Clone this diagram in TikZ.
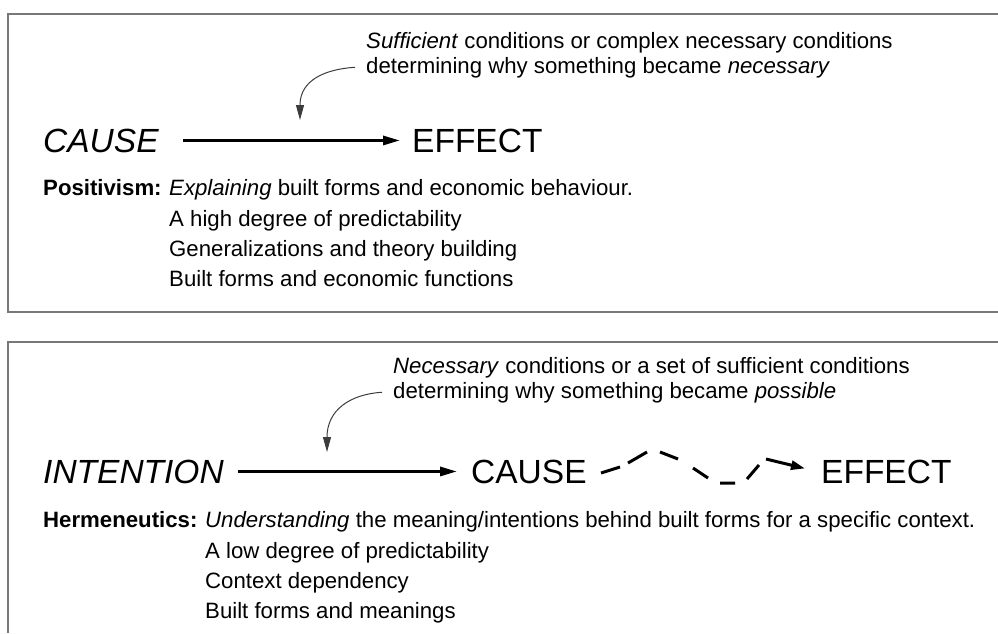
\documentclass[tikz,border=0pt]{standalone}
\usepackage{fontspec}
\setmainfont{Liberation Sans}
\usetikzlibrary{arrows.meta}
\definecolor{boxgray}{RGB}{120,120,120}
\definecolor{curvegray}{RGB}{60,60,60}
\begin{document}
\begin{tikzpicture}[x=1pt,y=-1pt,
  small/.style={font=\fontsize{22.2}{26}\selectfont, inner sep=0pt, anchor=base west},
  big/.style={font=\fontsize{33.5}{40}\selectfont, inner sep=0pt, anchor=base west},
  bigit/.style={font=\fontsize{33.5}{40}\selectfont\itshape, inner sep=0pt, anchor=base west},
  boxline/.style={draw=boxgray, line width=1.2pt},
  mainarrow/.style={line width=3pt, -{Triangle[length=17pt,width=9pt]}},
  curvearrow/.style={draw=curvegray, line width=1pt, -{Triangle[length=15pt,width=8pt]}},
  zig/.style={line width=3pt, -{Triangle[length=14pt,width=9pt]}}
]
\useasboundingbox (0,0) rectangle (998,633);
% boxes
\draw[boxline] (998,14) -- (8,14) -- (8,312) -- (998,312);
\draw[boxline] (998,342) -- (8,342) -- (8,633);

% ---------- top panel ----------
\node[small] (suf1) at (366,48) {\textit{Sufficient} conditions or complex necessary conditions};
\node[small] (suf2) at (366,73) {determining why something became \textit{necessary}};
\node[bigit] (cause1) at (43,152) {CAUSE};
\node[big] (effect1) at (412,152) {EFFECT};
\coordinate (tip1) at (300,120);
\draw[mainarrow, shorten <=24pt, shorten >=12pt] (cause1.east) -- (effect1.west);
\draw[curvearrow] ([xshift=-11pt]suf2.west) .. controls +(-30,2) and +(0,-40) .. (tip1);

\node[small] (pos) at (43,195) {\bfseries Positivism:};
\node[small] (pos1) at (169,195) {\textit{Explaining} built forms and economic behaviour.};
\node[small] (pos2) at (169,226) {A high degree of predictability};
\node[small] (pos3) at (169,256) {Generalizations and theory building};
\node[small] (pos4) at (169,286) {Built forms and economic functions};

% ---------- bottom panel ----------
\node[small] (nec1) at (393,373) {\textit{Necessary} conditions or a set of sufficient conditions};
\node[small] (nec2) at (393,398) {determining why something became \textit{possible}};
\node[bigit] (intent) at (43,483) {INTENTION};
\node[big] (cause2) at (471,483) {CAUSE};
\node[big] (effect2) at (821,483) {EFFECT};
\coordinate (tip2) at (327,452);
\draw[mainarrow, shorten <=14pt, shorten >=14pt] (intent.east) -- (cause2.west);
\draw[curvearrow] ([xshift=-11pt]nec2.west) .. controls +(-32,2) and +(0,-42) .. (tip2);
\draw[zig] (601,473) -- ++(19,-6) ++(8,-4) -- ++(19,-11)
  ++(13,0) -- ++(18,7) ++(15,9) -- ++(15,10) ++(12,5) -- ++(15,0)
  ++(12,-4) -- ++(12,-14) ++(7,-6) -- ([xshift=-16pt,yshift=3pt]effect2.west);

\node[small] (her) at (43,527) {\bfseries Hermeneutics:};
\node[small] (her1) at (205,527) {\textit{Understanding} the meaning/intentions behind built forms for a specific context.};
\node[small] (her2) at (205,558) {A low degree of predictability};
\node[small] (her3) at (205,588) {Context dependency};
\node[small] (her4) at (205,618) {Built forms and meanings};
\end{tikzpicture}
\end{document}
